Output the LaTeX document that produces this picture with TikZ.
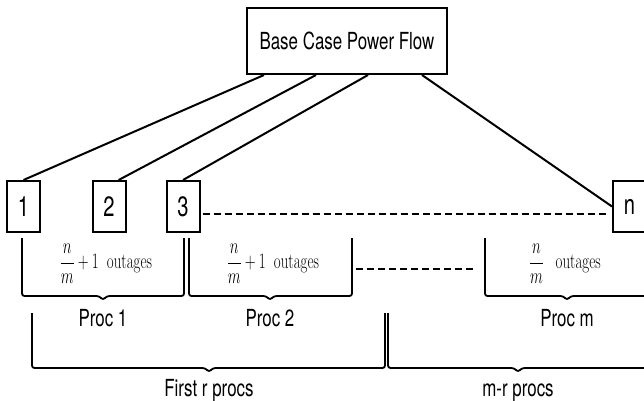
\RequirePackage{fix-cm}
\documentclass[tikz,border=0pt]{standalone}
\usepackage{fontspec}
\usepackage{graphicx}
\usetikzlibrary{calc}
\newfontfamily\hv[FakeStretch=0.72]{TeX Gyre Heros}
\newcommand{\mybrace}[5]{%
  \draw[bracestyle] (#1,#3) -- (#1,#4) -- (#5-4,#4) -- (#5,#4+4) -- (#5+4,#4) -- (#2,#4) -- (#2,#3);}
\newcommand{\outg}{\text{outages}}
\begin{document}
\begin{tikzpicture}[x=1pt,y=-1pt,line width=2pt,
  numbox/.style={draw,minimum width=33pt,minimum height=51pt,inner sep=0pt,
    font=\hv\fontsize{28}{28}\selectfont},
  basebox/.style={draw,minimum width=200pt,minimum height=66pt,inner sep=0pt,
    font=\hv\fontsize{23.5}{24}\selectfont},
  lbl/.style={font=\hv\fontsize{23.5}{24}\selectfont,inner sep=0pt,anchor=base},
  fraclbl/.style={inner sep=0pt,font=\fontsize{22}{24}\selectfont},
  dashline/.style={dash pattern=on 7pt off 4pt,line width=2pt},
  bracestyle/.style={rounded corners=2.5pt,line width=1.8pt}]
\useasboundingbox (0,0) rectangle (644,400);
\node[basebox] (base) at (347,41) {Base Case Power Flow};
\node[numbox] (b1) at (23.5,206.5) {1};
\node[numbox] (b2) at (109,206.5) {2};
\node[numbox] (b3) at (183,206.5) {3};
\node[numbox] (bn) at (629.5,206.5) {n};
\draw ($(base.south west)+(18,0)$) -- (b1.north);
\draw ($(base.south west)+(70,0)$) -- (b2.70);
\draw ($(base.south west)+(122,0)$) -- (b3.north);
\draw ($(base.south west)+(176,0)$) -- (bn.west);
\draw[dashline] ($(b3.east)+(2,7)$) -- ($(bn.west)+(-5,7)$);
% braces
\mybrace{22}{184}{238}{296}{103}
\mybrace{189}{352}{238}{296}{270}
\mybrace{485}{649}{238}{296}{567}
\mybrace{32}{385}{313}{368}{209}
\mybrace{388}{648}{313}{368}{518}
\coordinate (d1) at (356,269);
\coordinate (d2) at (475,269);
\draw[dashline] (d1) -- (d2);
% fraction labels
\node[fraclbl] (f1) at (106,264) {\scalebox{0.68}[1]{$\displaystyle\frac{n}{m}+1$\hspace{0.55em}outages}};
\node[fraclbl] (f2) at (273,264) {\scalebox{0.68}[1]{$\displaystyle\frac{n}{m}+1$\hspace{0.55em}outages}};
\node[fraclbl] (fm) at (565,264) {\scalebox{0.68}[1]{$\displaystyle\frac{n}{m}$\hspace{0.8em}outages}};
% text labels
\node[lbl] (p1) at (103,326) {Proc 1};
\node[lbl] (p2) at (270,326) {Proc 2};
\node[lbl] (pm) at (567,326) {Proc m};
\node[lbl] (fr) at (209,396) {First r procs};
\node[lbl] (mr) at (518,396) {m-r procs};
\end{tikzpicture}
\end{document}
